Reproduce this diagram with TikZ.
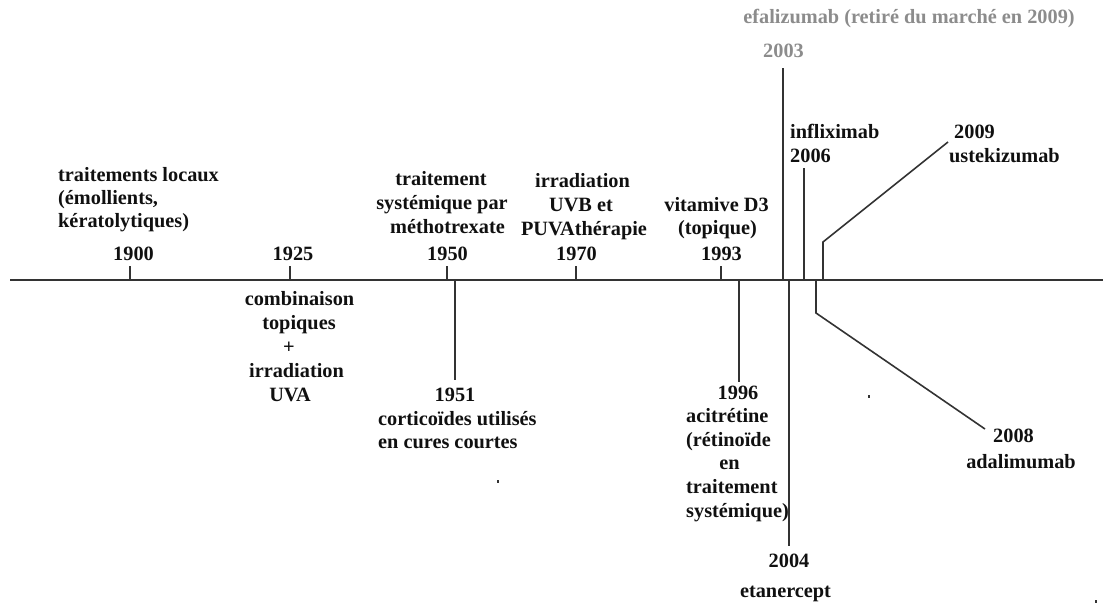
\documentclass[tikz,border=0pt]{standalone}
\usepackage{fontspec}
\setmainfont{Liberation Serif}
\definecolor{linecol}{HTML}{333333}
\definecolor{efgray}{HTML}{8C8C8C}
\definecolor{txtcol}{HTML}{101010}
\begin{document}
\begin{tikzpicture}[x=1pt,y=-1pt,
  lbl/.style={font=\bfseries\fontsize{20.3}{23}\selectfont, inner sep=0pt, text=txtcol},
  glbl/.style={lbl, text=efgray},
  tl/.style={line width=1.6pt, draw=linecol},
  dotmark/.style={fill=linecol, draw=none}]
\useasboundingbox (0,0) rectangle (1103,606);

% axis
\coordinate (axL) at (10,280);
\coordinate (axR) at (1103,280);
\draw[tl] (axL) -- (axR);

% upward ticks
\foreach \n/\x in {a1900/130, a1925/290, a1950/447, a1970/576, a1993/721}{
  \coordinate (\n b) at (\x,280);
  \coordinate (\n t) at (\x,266);
  \draw[tl] (\n b) -- (\n t);
}

% long lines
\coordinate (l1951a) at (455,280); \coordinate (l1951b) at (455,380);
\coordinate (l1996a) at (739,280); \coordinate (l1996b) at (739,382);
\coordinate (l2003a) at (783,280); \coordinate (l2003b) at (783,68);
\coordinate (l2004a) at (789,280); \coordinate (l2004b) at (789,546);
\coordinate (l2006a) at (804,280); \coordinate (l2006b) at (804,168);
\coordinate (l2008a) at (816,280); \coordinate (l2008k) at (816,313); \coordinate (l2008b) at (985,429);
\coordinate (l2009a) at (823,280); \coordinate (l2009k) at (823,242); \coordinate (l2009b) at (948,142);
\draw[tl] (l1951a) -- (l1951b);
\draw[tl] (l1996a) -- (l1996b);
\draw[tl] (l2003a) -- (l2003b);
\draw[tl] (l2004a) -- (l2004b);
\draw[tl] (l2006a) -- (l2006b);
\draw[tl] (l2008a) -- (l2008k) -- (l2008b);
\draw[tl] (l2009a) -- (l2009k) -- (l2009b);

% 1900
\node[lbl, anchor=base west] (t00a) at (58,181.5) {traitements locaux};
\node[lbl, anchor=base west] (t00b) at (58,204.5) {(émollients,};
\node[lbl, anchor=base west] (t00c) at (58,227.5) {kératolytiques)};
\node[lbl, anchor=base] (y1900) at (133.5,260) {1900};
% 1925
\node[lbl, anchor=base] (y1925) at (293,260) {1925};
\node[lbl, anchor=base] (t25a) at (299.5,305) {combinaison};
\node[lbl, anchor=base] (t25b) at (299,329) {topiques};
\node[lbl, anchor=base] (t25c) at (289,353) {+};
\node[lbl, anchor=base] (t25d) at (296.5,377) {irradiation};
\node[lbl, anchor=base] (t25e) at (290,401) {UVA};
% 1950
\node[lbl, anchor=base] (t50a) at (441,185) {traitement};
\node[lbl, anchor=base] (t50b) at (442,209) {systémique par};
\node[lbl, anchor=base] (t50c) at (447.5,233) {méthotrexate};
\node[lbl, anchor=base] (y1950) at (447.5,260) {1950};
% 1970
\node[lbl, anchor=base] (t70a) at (582.5,187) {irradiation};
\node[lbl, anchor=base] (t70b) at (581,211) {UVB et};
\node[lbl, anchor=base] (t70c) at (584,235) {PUVAthérapie};
\node[lbl, anchor=base] (y1970) at (576.5,260) {1970};
% 1993
\node[lbl, anchor=base] (t93a) at (716.5,211) {vitamive D3};
\node[lbl, anchor=base] (t93b) at (717.5,234) {(topique)};
\node[lbl, anchor=base] (y1993) at (721.5,260) {1993};
% 1951
\node[lbl, anchor=base] (y1951) at (455,401) {1951};
\node[lbl, anchor=base west] (t51a) at (378,425) {corticoïdes utilisés};
\node[lbl, anchor=base west] (t51b) at (378,448) {en cures courtes};
% 1996
\node[lbl, anchor=base] (y1996) at (738,399) {1996};
\node[lbl, anchor=base west] (t96a) at (686,422) {acitrétine};
\node[lbl, anchor=base west] (t96b) at (686,446) {(rétinoïde};
\node[lbl, anchor=base] (t96c) at (729.5,469) {en};
\node[lbl, anchor=base west] (t96d) at (686,493) {traitement};
\node[lbl, anchor=base west] (t96e) at (686,517) {systémique)};
% 2003
\node[glbl, anchor=base] (t03a) at (909,23) {efalizumab (retiré du marché en 2009)};
\node[glbl, anchor=base] (y2003) at (783.5,57) {2003};
% 2004
\node[lbl, anchor=base] (y2004) at (789,567) {2004};
\node[lbl, anchor=base] (t04a) at (785.5,597) {etanercept};
% 2006
\node[lbl, anchor=base west] (t06a) at (790,138) {infliximab};
\node[lbl, anchor=base west] (y2006) at (790,162) {2006};
% 2008
\node[lbl, anchor=base] (y2008) at (1013.5,442) {2008};
\node[lbl, anchor=base] (t08a) at (1021,468) {adalimumab};
% 2009
\node[lbl, anchor=base west] (y2009) at (954,138) {2009};
\node[lbl, anchor=base west] (t09a) at (949,162) {ustekizumab};

% stray dots
\fill[dotmark] (497,480) rectangle (499,482.5);
\fill[dotmark] (868,395) rectangle (870,397.5);
\fill[dotmark] (1095,600) rectangle (1097,602.5);
\end{tikzpicture}
\end{document}
